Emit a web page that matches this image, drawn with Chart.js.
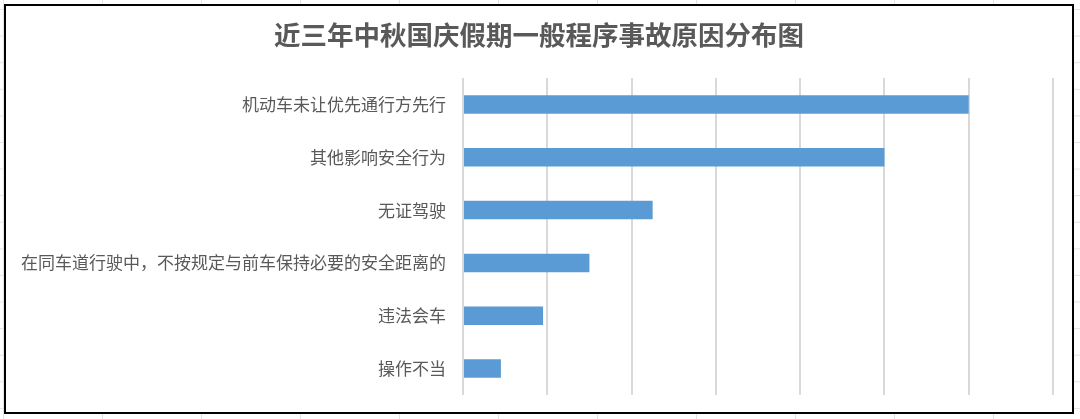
<!DOCTYPE html>
<html>
<head>
<meta charset="utf-8">
<script src="https://cdn.jsdelivr.net/npm/chart.js@4/dist/chart.umd.min.js"></script>
<style>
  html, body { margin: 0; padding: 0; }
  body {
    width: 1080px; height: 419px; overflow: hidden; position: relative;
    background-color: #ffffff;
    background-image:
      linear-gradient(to right, #e3e3e3 1px, transparent 1px),
      linear-gradient(to bottom, #e3e3e3 1px, transparent 1px);
    background-size: 99px 26.6px;
    background-position: 3px 9px;
  }
  #frame {
    position: absolute; left: 4px; top: 4px;
    width: 1066px; height: 406px;
    border: 2px solid #000; background: #fff;
  }
  #wrap { position: absolute; left: 0; top: 0; width: 1066px; height: 406px; }
</style>
</head>
<body>
<div id="frame"><div id="wrap"><canvas id="c"></canvas></div></div>
<script>
const titleText = '近三年中秋国庆假期一般程序事故原因分布图';
const categories = [
  '机动车未让优先通行方先行',
  '其他影响安全行为',
  '无证驾驶',
  '在同车道行驶中，不按规定与前车保持必要的安全距离的',
  '违法会车',
  '操作不当'
];
const counts = [120, 100, 45, 30, 19, 9];
const axisMax = 140;
const axisStep = 20;

const font = '"Noto Sans CJK SC", "Noto Sans", sans-serif';

const centeredTitle = {
  id: 'centeredTitle',
  afterDraw(chart) {
    const ctx = chart.ctx;
    ctx.save();
    ctx.fillStyle = '#595959';
    ctx.font = 'bold 26.5px ' + font;
    ctx.textAlign = 'center';
    ctx.textBaseline = 'middle';
    ctx.fillText(titleText, chart.width / 2, 28.5);
    ctx.restore();
  }
};

new Chart(document.getElementById('c'), {
  type: 'bar',
  data: {
    labels: categories,
    datasets: [{
      data: counts,
      backgroundColor: '#5B9BD5',
      borderWidth: 0,
      categoryPercentage: 0.35,
      barPercentage: 1.0
    }]
  },
  plugins: [centeredTitle],
  options: {
    indexAxis: 'y',
    responsive: true,
    maintainAspectRatio: false,
    animation: false,
    layout: { padding: { left: 0, right: 19, top: 72, bottom: 17 } },
    plugins: {
      legend: { display: false },
      tooltip: { enabled: false },
      title: { display: false }
    },
    scales: {
      x: {
        min: 0, max: axisMax,
        afterFit: (s) => { s.height = 0; s.paddingLeft = 0; s.paddingRight = 0; },
        ticks: { display: false, stepSize: axisStep },
        grid: { color: '#d9d9d9', lineWidth: 2, drawTicks: false },
        border: { display: false }
      },
      y: {
        afterFit: (s) => { s.width = 457; s.paddingTop = 0; s.paddingBottom = 0; },
        ticks: { color: '#595959', font: { family: font, size: 17 }, padding: 17 },
        grid: { display: false, drawTicks: false },
        border: { display: false }
      }
    }
  }
});
</script>
</body>
</html>
